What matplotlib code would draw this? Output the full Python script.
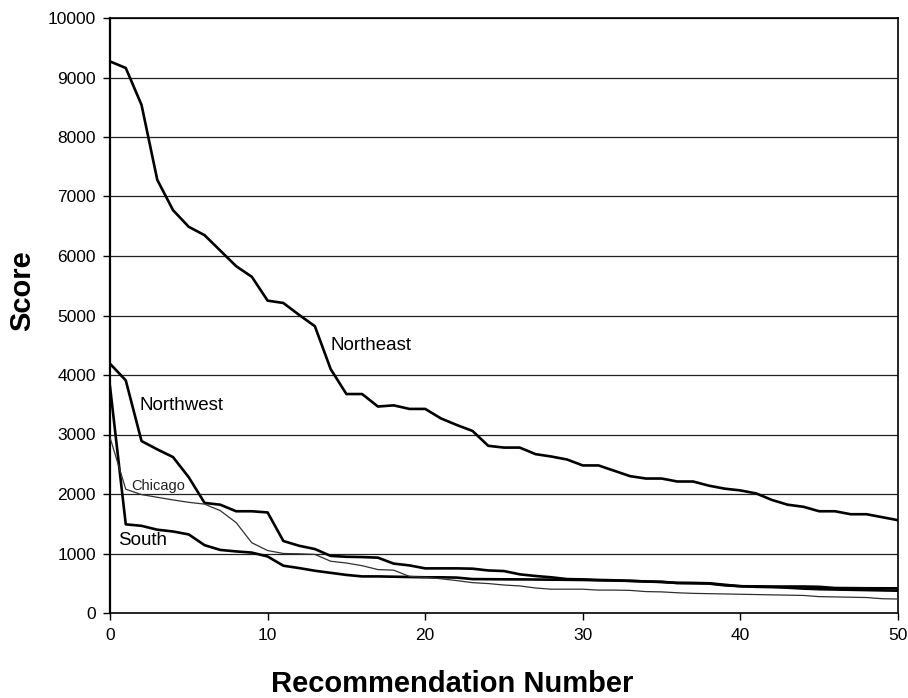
import numpy as np
import matplotlib
matplotlib.use("Agg")
import matplotlib.pyplot as plt

plt.rcParams['font.family'] = ['Liberation Sans', 'DejaVu Sans']

# recommendation number 0..50
rec_num = np.arange(0, 51)

# scores
northeast = [9270, 9160, 8540, 7280, 6770, 6490, 6350, 6090, 5830, 5650,
             5250, 5210, 5010, 4820, 4100, 3680, 3680, 3470, 3490, 3430,
             3430, 3270, 3160, 3060, 2810, 2780, 2780, 2670, 2630, 2580,
             2480, 2480, 2390, 2300, 2260, 2260, 2210, 2210, 2140, 2090,
             2060, 2010, 1900, 1820, 1785, 1710, 1710, 1660, 1660, 1610,
             1560]
northwest = [4190, 3910, 2890, 2750, 2620, 2280, 1850, 1820, 1710, 1710,
             1690, 1210, 1130, 1075, 960, 945, 940, 930, 830, 800,
             750, 750, 750, 745, 715, 705, 650, 622, 600, 570,
             565, 555, 550, 540, 530, 525, 505, 505, 500, 475,
             450, 448, 445, 445, 445, 440, 420, 418, 416, 415,
             415]
chicago = [2950, 2080, 1990, 1945, 1900, 1860, 1830, 1720, 1520, 1180,
           1050, 1000, 995, 985, 870, 840, 795, 730, 720, 615,
           600, 575, 545, 510, 495, 470, 455, 420, 400, 400,
           400, 385, 385, 380, 360, 355, 340, 330, 325, 320,
           315, 310, 305, 300, 295, 275, 270, 265, 260, 240,
           235]
south = [3810, 1490, 1465, 1400, 1370, 1320, 1140, 1060, 1035, 1015,
         950, 795, 755, 710, 675, 640, 615, 615, 610, 605,
         600, 600, 595, 570, 568, 566, 565, 563, 560, 558,
         555, 550, 545, 540, 530, 520, 505, 500, 495, 465,
         450, 440, 435, 425, 410, 400, 395, 390, 385, 380,
         375]

x_ticks = [0, 10, 20, 30, 40, 50]
y_ticks = list(range(0, 10001, 1000))

fig = plt.figure(figsize=(9.08, 6.98), dpi=100)
ax = fig.add_axes([110/908, 1-613/698, 788/908, 595/698])

# horizontal grid lines
for yv in y_ticks[1:]:
    ax.axhline(yv, color='#202020', lw=0.9, zorder=1)

ax.plot(rec_num, northeast, color='black', lw=1.9, zorder=3)
ax.plot(rec_num, northwest, color='black', lw=1.9, zorder=3)
ax.plot(rec_num, south, color='black', lw=1.9, zorder=3)
ax.plot(rec_num, chicago, color='#303030', lw=0.9, zorder=4)

# line labels
ax.text(14.0, 4500, 'Northeast', fontsize=13.5, va='center', ha='left')
ax.text(1.9, 3490, 'Northwest', fontsize=13.5, va='center', ha='left')
ax.text(1.33, 2135, 'Chicago', fontsize=10.5, va='center', ha='left', color='#202020')
ax.text(0.5, 1218, 'South', fontsize=13.5, va='center', ha='left')

ax.set_xlim(0, 50)
ax.set_ylim(0, 10000)
ax.set_xticks(x_ticks)
ax.set_yticks(y_ticks)
ax.tick_params(axis='both', direction='out', length=5, width=1, labelsize=12.5)
ax.tick_params(axis='x', pad=6)
ax.tick_params(axis='y', pad=5)

for s in ['top', 'right', 'bottom']:
    ax.spines[s].set_linewidth(1.2)
ax.spines['left'].set_linewidth(1.6)

fig.text(452/908, 1-684/698, 'Recommendation Number', fontsize=21, fontweight='bold',
         ha='center', va='center')
fig.text(22/908, 1-291/698, 'Score', fontsize=21, fontweight='bold',
         ha='center', va='center', rotation=90)

fig.savefig('out.png', dpi=100)
